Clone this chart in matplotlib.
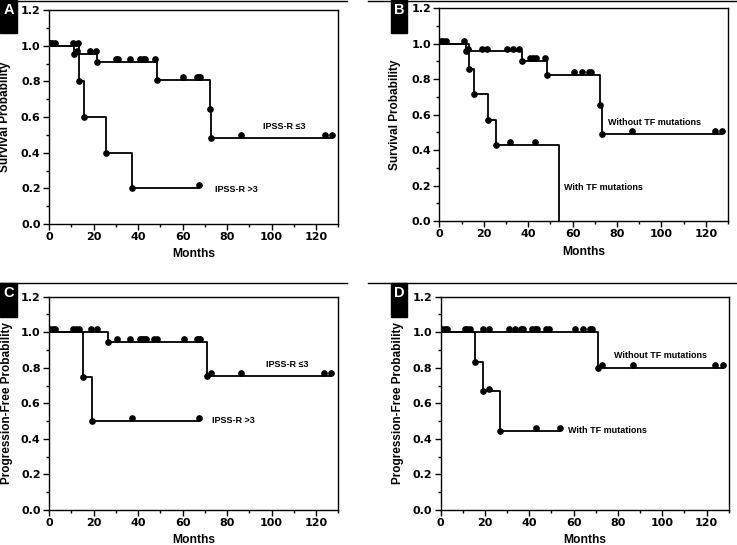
import numpy as np
import matplotlib
matplotlib.use("Agg")
import matplotlib.pyplot as plt
from matplotlib.patches import Rectangle
from matplotlib.lines import Line2D

plt.rcParams["font.family"] = ["Liberation Sans", "DejaVu Sans"]
plt.rcParams["font.weight"] = "bold"

# ---- data (months, probability) ----
# A: overall survival by IPSS-R
a_low_ev_t = [11.4, 21.5, 48.7, 72.5, 72.8]
a_low_ev_s = [0.955, 0.910, 0.808, 0.645, 0.484]
a_low_cens = [0.5, 1.2, 2.7, 10.9, 12.7, 18.5, 21.2, 30.2, 31.2, 36.2, 41.0, 42.2,
              43.2, 47.7, 60.3, 66.5, 67.3, 68.0, 86.4, 123.8, 127.2]
a_high_ev_t = [13.6, 15.7, 25.5, 37.5]
a_high_ev_s = [0.8, 0.6, 0.4, 0.2]
a_high_cens = [13.2, 67.5]

# B: overall survival by TF mutation status
b_wo_ev_t = [12.0, 37.4, 48.4, 72.5, 73.2]
b_wo_ev_s = [0.957, 0.903, 0.822, 0.657, 0.493]
b_wo_cens = [0.6, 1.7, 2.9, 11.3, 12.8, 19.1, 21.6, 30.7, 33.4, 36.1, 40.9, 42.1,
             43.6, 47.7, 60.8, 64.2, 67.2, 68.4, 86.6, 124.2, 127.5]
b_with_ev_t = [13.5, 15.8, 21.8, 25.4, 53.8]
b_with_ev_s = [0.857, 0.714, 0.571, 0.429, 0.0]
b_with_cens = [31.7, 43.0]

# C: progression-free survival by IPSS-R
c_low_ev_t = [26.5, 70.9]
c_low_ev_s = [0.944, 0.755]
c_low_cens = [0.6, 1.7, 2.7, 11.0, 12.2, 18.8, 21.6, 30.5, 36.4, 40.8, 41.9, 42.6,
              43.6, 47.4, 48.4, 60.5, 66.7, 67.4, 68.0, 72.9, 86.4, 123.7, 126.9]
c_high_ev_t = [15.3, 19.2]
c_high_ev_s = [0.75, 0.5]
c_high_cens = [13.6, 37.2, 67.6]

# D: progression-free survival by TF mutation status
d_wo_ev_t = [71.1]
d_wo_ev_s = [0.8]
d_wo_cens = [0.8, 1.8, 2.7, 11.0, 12.0, 13.4, 19.0, 21.7, 30.7, 33.7, 36.1, 37.1,
             41.2, 42.4, 43.6, 47.6, 48.7, 60.7, 64.4, 67.4, 68.2, 73.0, 86.8,
             124.0, 127.4]
d_with_ev_t = [15.5, 19.3, 26.6]
d_with_ev_s = [0.833, 0.667, 0.444]
d_with_cens = [21.6, 43.0, 54.0]

panels = [
    ("A", "Survival Probability",
     [(a_low_ev_t, a_low_ev_s, a_low_cens), (a_high_ev_t, a_high_ev_s, a_high_cens)],
     [("IPSS-R \u22643", 96.0, 0.545), ("IPSS-R >3", 74.5, 0.196)]),
    ("B", "Survival Probability",
     [(b_wo_ev_t, b_wo_ev_s, b_wo_cens), (b_with_ev_t, b_with_ev_s, b_with_cens)],
     [("Without TF mutations", 76.0, 0.553), ("With TF mutations", 56.3, 0.187)]),
    ("C", "Progression-Free Probability",
     [(c_low_ev_t, c_low_ev_s, c_low_cens), (c_high_ev_t, c_high_ev_s, c_high_cens)],
     [("IPSS-R \u22643", 97.5, 0.816), ("IPSS-R >3", 73.2, 0.506)]),
    ("D", "Progression-Free Probability",
     [(d_wo_ev_t, d_wo_ev_s, d_wo_cens), (d_with_ev_t, d_with_ev_s, d_with_cens)],
     [("Without TF mutations", 78.0, 0.872), ("With TF mutations", 57.3, 0.45)]),
]

W, H = 737, 545
# axes boxes in pixels: left, right, top, bottom
boxes = [(49, 338.3, 10, 224), (439.3, 728, 8.3, 221),
         (49, 338.3, 296.7, 510), (440.7, 728.7, 296.7, 510)]
# panel tag boxes (x0, x1, y0, y1) and rule lines (x0, x1, y)
tags = [(0, 17, 0, 33), (391, 407, 0, 33), (0, 17, 283, 317), (391, 407, 283, 317)]
rules = [(0, 347, 0.6), (368, 737, 0.6), (0, 347, 283.5), (368, 737, 283.5)]
ylab_x = [-0.131, -0.132, -0.125, -0.127]
xlab_y = [-0.112, -0.118, -0.112, -0.112]

fig = plt.figure(figsize=(W / 100, H / 100), dpi=100)


def level_at(t, ev_t, ev_s):
    s = 1.0
    for et, es in zip(ev_t, ev_s):
        if t >= et:
            s = es
    return s


for i, (tag, ylab, curves, notes) in enumerate(panels):
    l, r, t, b = boxes[i]
    ax = fig.add_axes([l / W, 1 - b / H, (r - l) / W, (b - t) / H])

    for ev_t, ev_s, cens in curves:
        end = max(max(cens), max(ev_t))
        xs = [0] + list(ev_t) + [end]
        ys = [1.0] + list(ev_s) + [ev_s[-1]]
        ax.step(xs, ys, where="post", color="black", lw=1.3)
        mt = [x for x, y in zip(ev_t, ev_s) if y > 0]
        ms = [y for y in ev_s if y > 0]
        ax.plot(mt, ms, "o", color="black", ms=3.8)
        cy = [level_at(c, ev_t, ev_s) + 0.016 for c in cens]
        ax.plot(cens, cy, "o", color="black", ms=3.8)

    for txt, x, y in notes:
        ax.text(x, y, txt, fontsize=6.5, fontweight="bold", va="center", ha="left")

    ax.set_xlim(0, 130)
    ax.set_ylim(0, 1.2)
    ax.set_xticks(np.arange(0, 121, 20))
    ax.set_xticks(np.arange(10, 131, 20), minor=True)
    ax.set_yticks(np.arange(0, 1.21, 0.2))
    ax.set_yticks(np.arange(0.1, 1.2, 0.2), minor=True)
    ax.set_yticklabels([f"{v:.1f}" for v in np.arange(0, 1.21, 0.2)])
    ax.tick_params(which="major", direction="out", length=4, width=1.0, pad=2)
    ax.tick_params(which="minor", direction="out", length=2.5, width=1.0)
    for lab in ax.get_xticklabels() + ax.get_yticklabels():
        lab.set_fontfamily("DejaVu Sans")
        lab.set_fontweight("bold")
        lab.set_fontsize(8)
    for sp in ax.spines.values():
        sp.set_linewidth(1.0)

    ax.set_xlabel("Months", fontsize=8.7, fontweight="bold")
    ax.set_ylabel(ylab, fontsize=8.5, fontweight="bold")
    ax.xaxis.set_label_coords(0.5, xlab_y[i])
    ax.yaxis.set_label_coords(ylab_x[i], 0.5)

    # panel tag: white letter on black block
    x0, x1, y0, y1 = tags[i]
    fig.patches.append(Rectangle((x0 / W, 1 - y1 / H), (x1 - x0) / W, (y1 - y0) / H,
                                 transform=fig.transFigure, color="black", zorder=5))
    fig.text((x0 + x1) / 2 / W, 1 - (y0 + 10) / H, tag, color="white", fontsize=10.5,
             fontweight="bold", ha="center", va="center", zorder=6)

    rx0, rx1, ry = rules[i]
    fig.lines.append(Line2D([rx0 / W, rx1 / W], [1 - ry / H, 1 - ry / H],
                            transform=fig.transFigure, color="black", lw=1.0))

fig.savefig("out.png", dpi=100)
